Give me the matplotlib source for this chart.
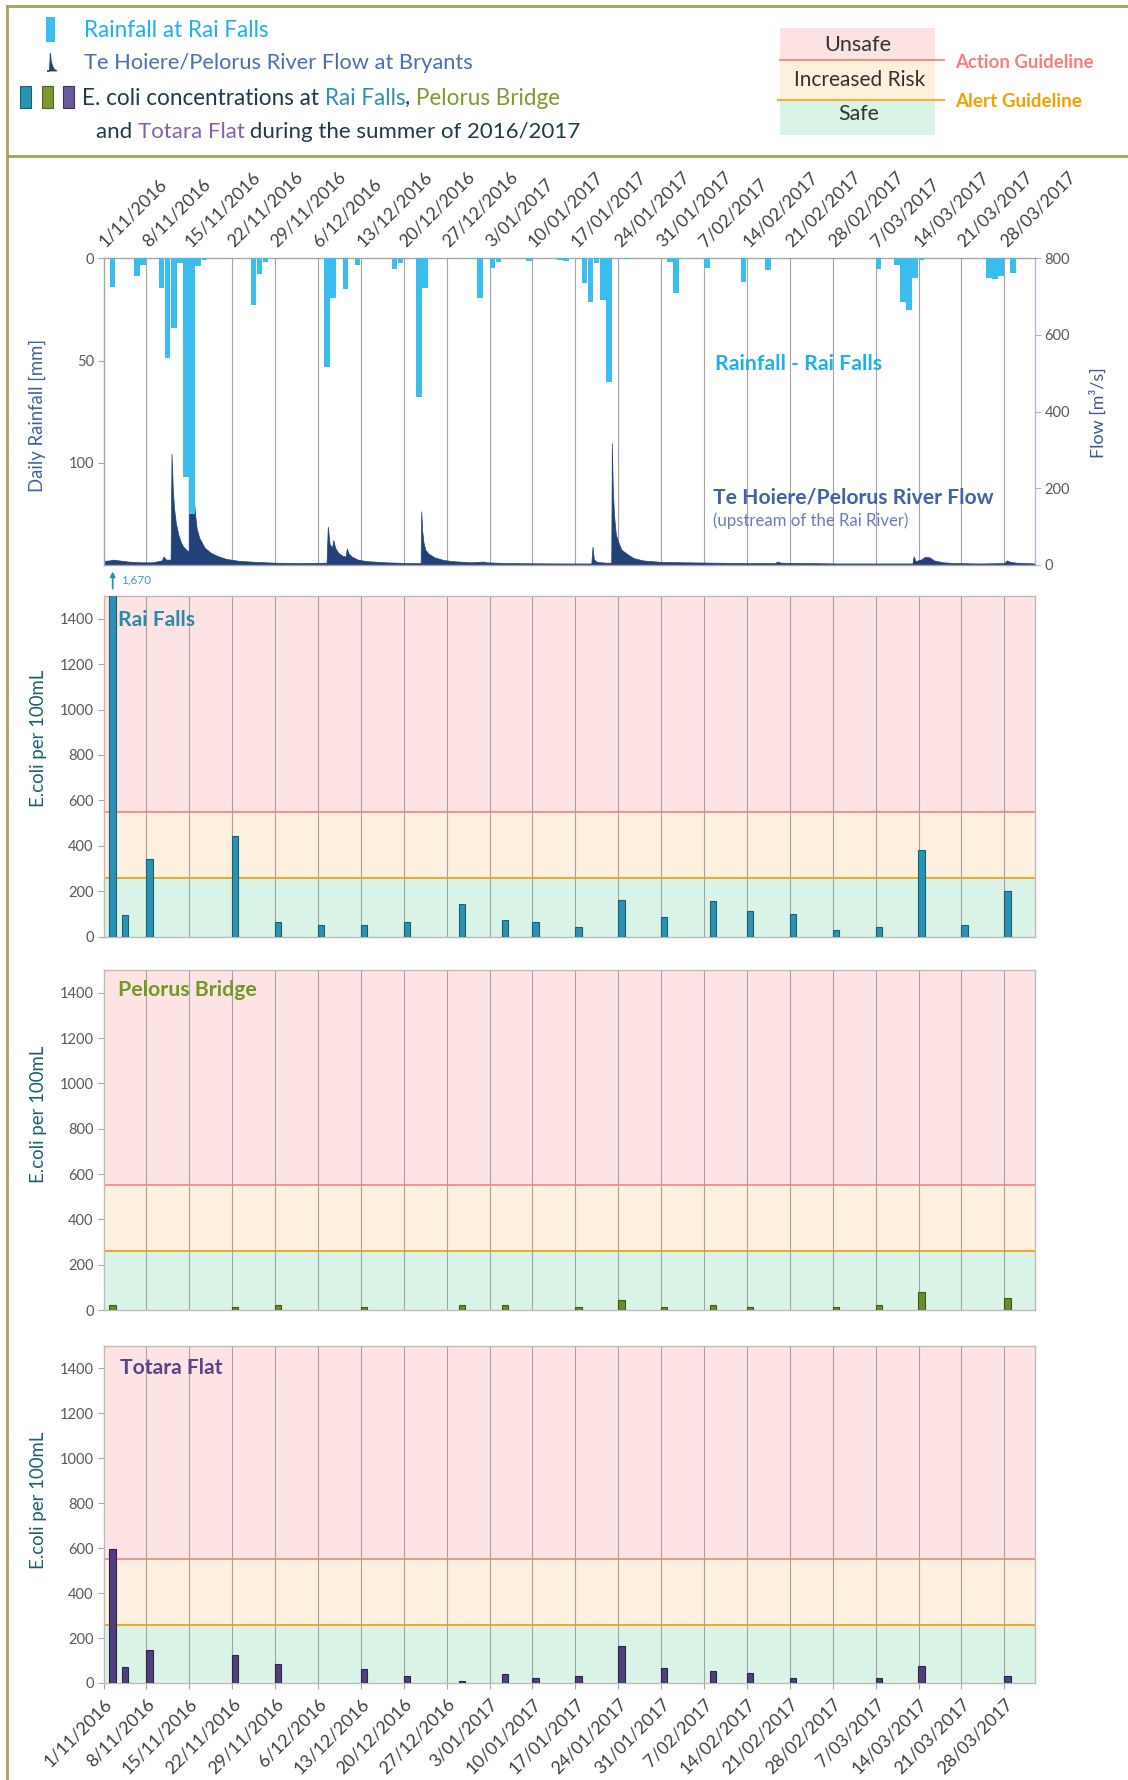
import numpy as np
import matplotlib
matplotlib.use('Agg')
import matplotlib.pyplot as plt
from matplotlib.patches import Rectangle, Polygon
from matplotlib.lines import Line2D
from matplotlib.transforms import ScaledTranslation

plt.rcParams['font.family'] = ['Lato', 'DejaVu Sans']

# ---------------- data (days counted from 1/11/2016) ----------------
week_labels = ['1/11/2016', '8/11/2016', '15/11/2016', '22/11/2016', '29/11/2016',
               '6/12/2016', '13/12/2016', '20/12/2016', '27/12/2016', '3/01/2017',
               '10/01/2017', '17/01/2017', '24/01/2017', '31/01/2017', '7/02/2017',
               '14/02/2017', '21/02/2017', '28/02/2017', '7/03/2017', '14/03/2017',
               '21/03/2017', '28/03/2017']
week_days = list(range(0, 148, 7))
x_end = 152

rain_day = [1, 5, 6, 9, 10, 11, 12, 13, 14, 15, 16, 24, 25, 26, 36, 37, 39, 41, 47, 48,
            51, 52, 60, 61, 63, 64, 69, 74, 75, 78, 79, 80, 81, 82, 85, 92, 93, 98, 104,
            108, 126, 129, 130, 131, 132, 133, 144, 145, 146, 148]
rain_mm = [14, 8.5, 3.2, 14.6, 49, 34, 2.4, 107, 125, 4, 1, 23, 7.8, 2, 53, 19.5, 15,
           3.2, 5.4, 2.4, 68, 14.3, 0.5, 19.5, 4.9, 1.6, 1.5, 1, 1.5, 11.9, 21.6, 2.1,
           20.3, 60.5, 0.5, 1.6, 17.1, 4.9, 11.4, 5.7, 5.2, 3.2, 21.6, 25.5, 9.8, 1,
           9.4, 10.2, 8.5, 7.3]

flow_day = [0, 1.0, 1.5, 2.5, 4, 6, 8, 9.5, 9.8, 10.2,
            10.95, 11.1, 11.3, 11.5, 11.8, 12.2, 12.6, 13.0, 13.5, 13.9,
            13.94, 14.2, 14.4, 14.6, 14.9, 15.2, 15.6, 16.0, 16.5, 17.5,
            18.5, 20, 22, 25, 28, 32, 36.4, 36.6, 36.9, 37.3,
            37.5, 37.8, 38.3, 39.0, 39.5, 39.7, 40.0, 40.5, 41.5, 43,
            46, 50, 51.75, 51.85, 52.0, 52.2, 52.5, 53.0, 54.0, 55.5,
            57, 60, 62.0, 62.5, 66, 70, 75, 79.6, 79.8, 80.0,
            80.5, 82.0, 82.85, 82.95, 83.1, 83.3, 83.6, 84, 84.5, 85.5,
            86.5, 88, 91, 95, 100, 105, 109.5, 110, 110.5, 115,
            120, 125, 132.0, 132.2, 132.5, 133.5, 134.0, 134.8, 135.5, 137,
            139, 143, 147.0, 147.4, 148, 149, 152]
flow_m3s = [11, 12, 14, 12, 9, 7, 7, 12, 22, 14,
            14, 291, 200, 150, 110, 80, 60, 48, 40, 35,
            590, 420, 280, 200, 140, 95, 72, 60, 45, 32,
            24, 16, 11, 8, 6, 5, 6, 100, 55, 45,
            65, 45, 32, 24, 22, 43, 30, 22, 14, 10,
            7, 5, 5, 140, 90, 60, 40, 30, 20, 13,
            10, 7, 9, 7, 5, 4.5, 4, 4, 48, 15,
            8, 6, 6, 318, 200, 130, 80, 60, 40, 28,
            18, 12, 8, 7, 6, 5, 5, 9, 6, 5,
            4, 4, 4, 23, 10, 15, 21, 20, 12, 7,
            5, 4, 5, 12, 8, 6, 4]

rai_day = [1, 3, 7, 21, 28, 35, 42, 49, 58, 65, 70, 77, 84, 91, 99, 105, 112, 119, 126,
           133, 140, 147]
rai_ecoli = [1670, 96, 342, 445, 64, 50, 50, 64, 145, 74, 64, 41, 162, 86, 158, 112, 99,
             30, 44, 380, 52, 202]
pel_day = [1, 21, 28, 42, 58, 65, 77, 84, 91, 99, 105, 119, 126, 133, 147]
pel_ecoli = [22, 14, 22, 14, 22, 22, 14, 43, 14, 22, 14, 14, 22, 78, 52]
tot_day = [1, 3, 7, 21, 28, 42, 49, 58, 65, 70, 77, 84, 91, 99, 105, 112, 126, 133, 147]
tot_ecoli = [597, 72, 146, 124, 84, 64, 30, 9, 42, 21, 30, 164, 67, 52, 45, 22, 22, 75, 30]

alert_level = 260
action_level = 550
ecoli_max = 1500
ecoli_ticks = [0, 200, 400, 600, 800, 1000, 1200, 1400]
rain_ticks = [0, 50, 100]
rain_max = 150
flow_ticks = [0, 200, 400, 600, 800]

# ---------------- figure & helpers ----------------
W, H = 1128, 1780
fig = plt.figure(figsize=(W / 100, H / 100), dpi=100)
fig.patch.set_facecolor('white')
R = fig.canvas.get_renderer()

def rect(l, t, r, b):
    return [l / W, 1 - b / H, (r - l) / W, (b - t) / H]

def twidth(s, size, weight='normal'):
    t1 = fig.text(0, 0, '|' + s + '|', fontsize=size, fontweight=weight)
    t2 = fig.text(0, 0, '||', fontsize=size, fontweight=weight)
    w = t1.get_window_extent(R).width - t2.get_window_extent(R).width
    t1.remove(); t2.remove()
    return w

def ftext(x, y, s, size=12, color='k', ha='left', va='center', weight='normal',
          rotation=0, length=None):
    t = fig.text(x / W, 1 - y / H, s, fontsize=size, color=color, ha=ha, va=va,
                 fontweight=weight, rotation=rotation)
    if length is not None:
        bb = t.get_window_extent(R)
        w = bb.height if rotation == 90 else bb.width
        t.set_fontsize(size * length / w)
    return t

def rich(x, cy, parts, length, base=12):
    total = twidth(''.join(s for s, _ in parts), base)
    size = base * length / total
    base_y = cy + 0.34 * size * 100 / 72
    for s, c in parts:
        fig.text(x / W, 1 - base_y / H, s, fontsize=size, color=c, ha='left', va='baseline')
        x += twidth(s, size)

def fline(x0, x1, y0, y1, color, lw):
    fig.add_artist(Line2D([x0 / W, x1 / W], [1 - y0 / H, 1 - y1 / H], color=color, lw=lw,
                          transform=fig.transFigure))

def frect(x0, y0, x1, y1, fc, ec='none', lw=0):
    fig.add_artist(Rectangle((x0 / W, 1 - y1 / H), (x1 - x0) / W, (y1 - y0) / H,
                             facecolor=fc, edgecolor=ec, lw=lw, transform=fig.transFigure))

L, Rr = 103.5, 1035
TICK_C = '#595959'
GRID_C = '#a3a3a3'
SPINE_C = '#bcbcbc'

c_rain = '#3bbdee'
c_flow = '#22417a'
c_rai = '#2a93b4'; c_rai_e = '#1c5e74'
c_pel = '#6a8c2e'; c_pel_e = '#3e5a1a'
c_tot = '#50407a'; c_tot_e = '#2c2350'

# ---------------- top chart: rainfall + flow ----------------
ax_flow = fig.add_axes(rect(L, 258.3, Rr, 565))
ax_flow.set_xlim(0, x_end)
ax_flow.set_ylim(0, flow_ticks[-1])
for d in week_days[1:]:
    ax_flow.axvline(d, color=GRID_C, lw=0.8, zorder=1)
ax_flow.fill_between(flow_day, flow_m3s, 0, color=c_flow, lw=0.5, zorder=2)
ax_flow.yaxis.tick_right()
ax_flow.set_yticks(flow_ticks)
ax_flow.tick_params(axis='y', labelsize=10.5, labelcolor=TICK_C, color='#b4b4d8',
                    length=4, pad=3)
ax_flow.tick_params(axis='x', bottom=False, top=False, labelbottom=False, labeltop=False)
for k, s in ax_flow.spines.items():
    s.set_color('#a6a6a6'); s.set_linewidth(1.0)
ax_flow.spines['right'].set_color('#b4b4d8')

ax_rain = fig.add_axes(rect(L, 258.3, Rr, 565))
ax_rain.patch.set_visible(False)
ax_rain.set_xlim(0, x_end)
ax_rain.bar(rain_day, rain_mm, width=0.92, align='edge', color=c_rain, lw=0, zorder=3)
ax_rain.set_ylim(rain_max, 0)
ax_rain.set_yticks(rain_ticks)
ax_rain.tick_params(axis='y', labelsize=10.5, labelcolor=TICK_C, color='#a6a6a6',
                    length=4, pad=3)
ax_rain.xaxis.tick_top()
ax_rain.set_xticks(week_days)
ax_rain.set_xticklabels(week_labels, rotation=45, ha='left', rotation_mode='anchor',
                        fontsize=12.8, color='#404040')
ax_rain.tick_params(axis='x', length=0, pad=6)
shift = ScaledTranslation(3 / 72, 0, fig.dpi_scale_trans)
for lab in ax_rain.get_xticklabels():
    lab.set_transform(lab.get_transform() + shift)
for s in ax_rain.spines.values():
    s.set_visible(False)

ftext(37.8, 415, 'Daily Rainfall [mm]', size=12, color='#3f62a8', ha='center',
      rotation=90, length=153)
ftext(1098, 413, 'Flow [m³/s]', size=12, color='#3f55a0', ha='center',
      rotation=90, length=90)
ftext(715, 364, 'Rainfall - Rai Falls', size=13, color='#1db1ea', weight='bold', length=167)
ftext(713, 497, 'Te Hoiere/Pelorus River Flow', size=13, color='#4062a8', weight='bold',
      length=280)
ftext(713, 520.5, '(upstream of the Rai River)', size=10, color='#6a7bbd', length=196)

# ---------------- E. coli panels ----------------
def panel(top, bottom, days, vals, face, edge, title, tcolor, title_x, title_y, title_len,
          ylab_y, bottom_labels=False):
    ax = fig.add_axes(rect(L, top, Rr, bottom))
    ax.set_xlim(0, x_end)
    ax.set_ylim(0, ecoli_max)
    ax.axhspan(0, alert_level, facecolor='#d9f4e7', lw=0, zorder=0)
    ax.axhspan(alert_level, action_level, facecolor='#fef0de', lw=0, zorder=0)
    ax.axhspan(action_level, ecoli_max, facecolor='#fee3e5', lw=0, zorder=0)
    ax.axhline(action_level, color='#f27a7a', lw=1.1, zorder=1)
    ax.axhline(alert_level, color='#f5a623', lw=1.4, zorder=1)
    for d in week_days[1:]:
        ax.axvline(d, color=GRID_C, lw=0.8, zorder=1.5)
    ax.bar(np.asarray(days) + 0.5, vals, width=1.05, color=face, edgecolor=edge,
           linewidth=0.8, zorder=3)
    ax.set_yticks(ecoli_ticks)
    ax.tick_params(axis='y', labelsize=10.5, labelcolor=TICK_C, color='#a6a6a6',
                   length=4.5, pad=2.5)
    ax.set_xticks(week_days)
    if bottom_labels:
        ax.set_xticklabels(week_labels, rotation=45, ha='right', rotation_mode='anchor',
                           fontsize=12.8, color='#404040')
        ax.tick_params(axis='x', length=4, color='#a6a6a6', pad=5)
    else:
        ax.tick_params(axis='x', length=0, labelbottom=False)
    for s in ax.spines.values():
        s.set_color(SPINE_C); s.set_linewidth(1.0)
    ftext(title_x, title_y, title, size=13, color=tcolor, weight='bold', length=title_len)
    ftext(38.5, ylab_y, 'E.coli per 100mL', size=12, color='#1e5f6e', ha='center',
          rotation=90, length=137)
    return ax

ax_rai = panel(596, 936.7, rai_day, rai_ecoli, c_rai, c_rai_e, 'Rai Falls', '#2c8aa9',
               118, 620, 77, 738)
ax_pel = panel(970, 1310, pel_day, pel_ecoli, c_pel, c_pel_e, 'Pelorus Bridge', '#6f9a23',
               118, 990.5, 138, 1114)
ax_tot = panel(1346, 1683, tot_day, tot_ecoli, c_tot, c_tot_e, 'Totara Flat', '#5b4486',
               120.5, 1368, 102.5, 1500, bottom_labels=True)

# off-scale value marker
xa = rai_day[0] + 0.5
ax_rai.annotate('', xy=(xa, 1.072), xytext=(xa, 1.022), xycoords=('data', 'axes fraction'),
                arrowprops=dict(arrowstyle='-|>', color='#2a93b4', lw=1.3,
                                mutation_scale=7, shrinkA=0, shrinkB=0),
                annotation_clip=False)
ax_rai.text(xa + 1.3, 1.047, f'{rai_ecoli[0]:,}', transform=ax_rai.get_xaxis_transform(),
            fontsize=8.5, color='#3a9cbf', va='center', ha='left', clip_on=False)

# ---------------- header / legend ----------------
frame_c = '#a8a15a'
fline(7, W, 5.5, 5.5, frame_c, 2)
fline(7, 7, 5.5, H, frame_c, 2)
fline(7, W, 155.5, 155.5, frame_c, 2)

frect(46, 17, 54.5, 42, c_rain)
fig.add_artist(Polygon([((47) / W, 1 - 71 / H), (49.6 / W, 1 - 71 / H), (50.3 / W, 1 - 53 / H),
                        (51.2 / W, 1 - 61 / H), (52.5 / W, 1 - 66 / H), (54.5 / W, 1 - 69.5 / H),
                        (57 / W, 1 - 71 / H)], closed=True, facecolor=c_flow,
                       edgecolor=c_flow, lw=0.6, transform=fig.transFigure))
frect(20, 86, 31, 108, c_rai, c_rai_e, 0.8)
frect(41.5, 86, 52.5, 108, '#7a9a35', '#4d6420', 0.8)
frect(63, 86, 74, 108, '#6b5a9a', '#3c3060', 0.8)

dark = '#1f3b47'
rich(84, 29.5, [('Rainfall at Rai Falls', '#1eb0e8')], 184)
rich(84, 62, [('Te Hoiere/Pelorus River Flow at Bryants', '#4b6fb3')], 388)
rich(82, 97, [('E. coli concentrations at ', dark), ('Rai Falls', '#2e8fb0'), (', ', dark),
              ('Pelorus Bridge', '#7d9b2f')], 477)
rich(95.5, 130, [('and ', dark), ('Totara Flat', '#8160b0'),
                 (' during the summer of 2016/2017', dark)], 482)

frect(780, 28, 935, 60, '#fde2e3')
frect(780, 60, 935, 100, '#fdf0dc')
frect(780, 100, 935, 135, '#d9f3e6')
fline(780, 944, 60, 60, '#f07c7c', 1.2)
fline(778, 944, 100, 100, '#f6b22a', 1.5)
ftext(857.5, 45, 'Unsafe', size=12.5, color='#333333', ha='center', length=67)
ftext(859.5, 80, 'Increased Risk', size=12.5, color='#333333', ha='center', length=132)
ftext(858.5, 114.5, 'Safe', size=12.5, color='#333333', ha='center', length=41)
ftext(955, 62, 'Action Guideline', size=11.5, color='#f28080', weight='bold', length=138)
ftext(955, 101.5, 'Alert Guideline', size=11.5, color='#f5a000', weight='bold', length=127)

fig.savefig('out.png', dpi=100, facecolor='white')
